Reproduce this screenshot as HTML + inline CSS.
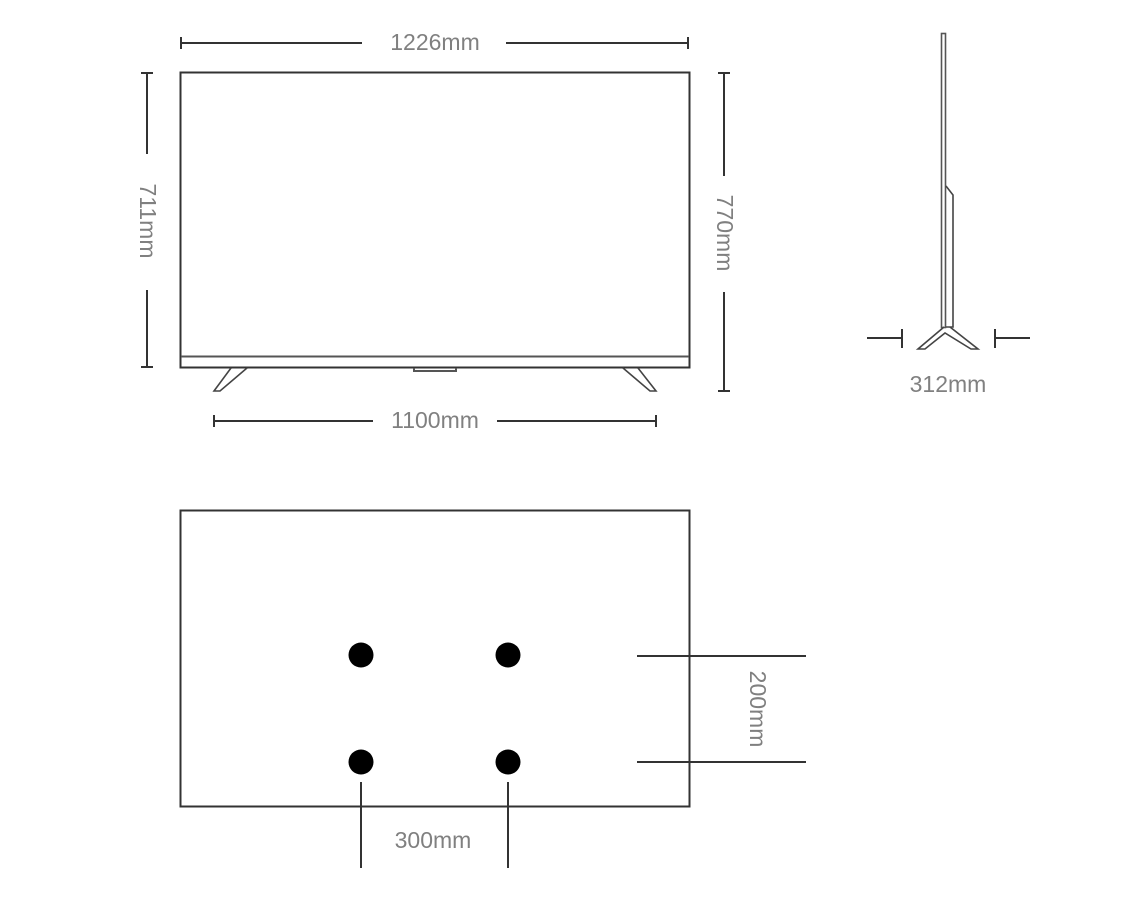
<!DOCTYPE html>
<html><head><meta charset="utf-8"><style>
html,body{margin:0;padding:0;background:#fff}
svg{display:block}
text{font-family:"Liberation Sans",sans-serif;font-size:23px;fill:#808080}
</style></head><body>
<svg width="1128" height="908" viewBox="0 0 1128 908" xmlns="http://www.w3.org/2000/svg">
<g stroke="#333" stroke-width="2" fill="none">
<rect x="180.5" y="72.5" width="509" height="295"/>
<line x1="181" y1="356.5" x2="689" y2="356.5" stroke="#555"/>
<path d="M414 368 L414 371 L456 371 L456 368" stroke="#555"/>
<path d="M231 368 L214 391 L220 391 L247 368" stroke="#444" stroke-width="1.6"/>
<path d="M623 368 L650 391 L656 391 L638 368" stroke="#444" stroke-width="1.6"/>
<line x1="181" y1="43" x2="362" y2="43"/><line x1="506" y1="43" x2="688" y2="43"/>
<line x1="181" y1="37" x2="181" y2="49"/><line x1="688" y1="37" x2="688" y2="49"/>
<line x1="147" y1="73" x2="147" y2="154"/><line x1="147" y1="290" x2="147" y2="367"/>
<line x1="141" y1="73" x2="153" y2="73"/><line x1="141" y1="367" x2="153" y2="367"/>
<line x1="724" y1="73" x2="724" y2="176"/><line x1="724" y1="292" x2="724" y2="391"/>
<line x1="718" y1="73" x2="730" y2="73"/><line x1="718" y1="391" x2="730" y2="391"/>
<line x1="214" y1="421" x2="373" y2="421"/><line x1="497" y1="421" x2="656" y2="421"/>
<line x1="214" y1="415" x2="214" y2="427"/><line x1="656" y1="415" x2="656" y2="427"/>
<rect x="941.5" y="33.5" width="4" height="294" stroke="#555" stroke-width="1.6"/>
<path d="M946 186 L953 195 L953 327 L946 327" stroke="#444" stroke-width="1.6"/>
<path d="M944 327 L918 349 L925 349 L945 333 L971 349 L978 349 L950 327" stroke="#444" stroke-width="1.6"/>
<line x1="867" y1="338" x2="902" y2="338"/><line x1="902" y1="329" x2="902" y2="348"/>
<line x1="995" y1="338" x2="1030" y2="338"/><line x1="995" y1="329" x2="995" y2="348"/>
<rect x="180.5" y="510.5" width="509" height="296"/>
<line x1="637" y1="656" x2="806" y2="656"/><line x1="637" y1="762" x2="806" y2="762"/>
<line x1="361" y1="782" x2="361" y2="868"/><line x1="508" y1="782" x2="508" y2="868"/>
</g>
<g fill="#000">
<circle cx="361" cy="655" r="12.5"/><circle cx="508" cy="655" r="12.5"/>
<circle cx="361" cy="762" r="12.5"/><circle cx="508" cy="762" r="12.5"/>
</g>
<text x="435" y="50" text-anchor="middle">1226mm</text>
<text x="435" y="428" text-anchor="middle">1100mm</text>
<text x="948" y="392" text-anchor="middle">312mm</text>
<text x="433" y="848" text-anchor="middle">300mm</text>
<text transform="translate(140,221) rotate(90)" text-anchor="middle">711mm</text>
<text transform="translate(717,233) rotate(90)" text-anchor="middle">770mm</text>
<text transform="translate(750,709) rotate(90)" text-anchor="middle">200mm</text>
</svg>
</body></html>
